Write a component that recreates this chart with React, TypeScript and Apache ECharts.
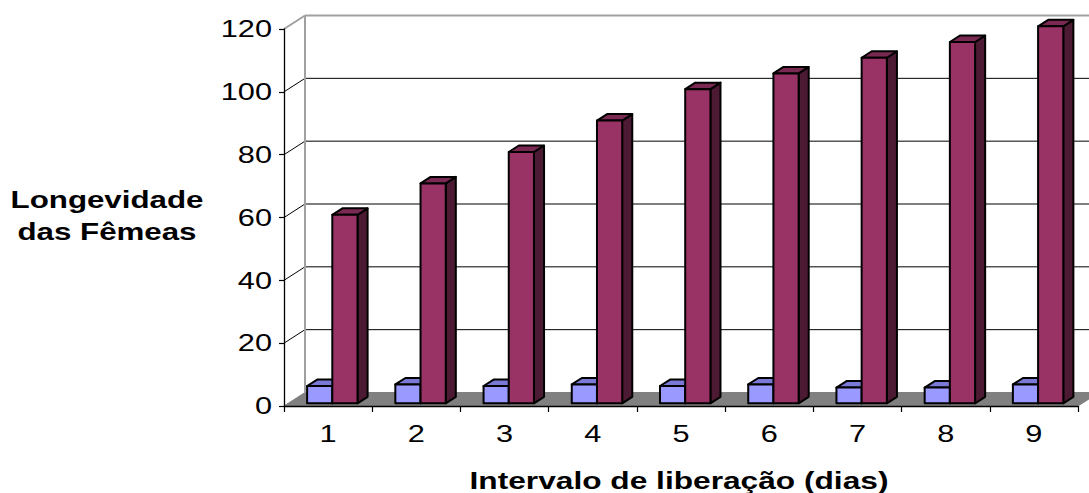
import React, { useEffect, useRef } from "react";
import * as echarts from "echarts";

const categories = ["1", "2", "3", "4", "5", "6", "7", "8", "9"];
const seriesBlue = [5.5, 6, 5.5, 6, 5.5, 6, 5, 5, 6];
const seriesRed = [60, 70, 80, 90, 100, 105, 110, 115, 120];
const yTicks = [0, 20, 40, 60, 80, 100, 120];

const yTitle = "Longevidade\ndas Fêmeas";
const xTitle = "Intervalo de liberação (dias)";

// oblique depth vector (full chart depth)
const DX = 21;
const DY = -13.5;
const F1 = 0.2;
const F2 = 0.68;
const FONT = "Liberation Sans, Arial, Helvetica, sans-serif";
const SX = 1.28;

function makeBarRender(leftSide: boolean, front: string, top: string, side: string) {
  return (params: any, api: any) => {
    const idx = api.value(0);
    const v = api.value(1);
    const c0 = api.coord([idx, 0]);
    const c1 = api.coord([idx, v]);
    const cw = api.size([1, 0])[0];
    const bw = cw / 3.5;
    const l = leftSide ? c0[0] - bw : c0[0];
    const r = l + bw;
    const fx = DX * F1, fy = DY * F1, bx = DX * F2, by = DY * F2;
    const yb = c0[1], yt = c1[1];
    const st = { stroke: "#000", lineWidth: 2, lineJoin: "round" };
    return {
      type: "group",
      children: [
        {
          type: "polygon",
          shape: { points: [[r + fx, yt + fy], [r + bx, yt + by], [r + bx, yb + by], [r + fx, yb + fy]] },
          style: { fill: side, ...st },
        },
        {
          type: "polygon",
          shape: { points: [[l + fx, yt + fy], [r + fx, yt + fy], [r + bx, yt + by], [l + bx, yt + by]] },
          style: { fill: top, ...st },
        },
        {
          type: "polygon",
          shape: { points: [[l + fx, yt + fy], [r + fx, yt + fy], [r + fx, yb + fy], [l + fx, yb + fy]] },
          style: { fill: front, ...st },
        },
      ],
    };
  };
}

export default function App() {
  const ref = useRef<HTMLDivElement>(null);
  useEffect(() => {
    if (!ref.current) return;
    const chart = echarts.init(ref.current, null, { renderer: "svg" });

    const wallsRender = (params: any, api: any) => {
      const cs = params.coordSys;
      const L = cs.x;
      const R = cs.x + cs.width;
      const y0 = api.coord([0, 0])[1];
      const children: any[] = [];
      children.push({
        type: "polygon",
        shape: { points: [[L, y0], [R, y0], [R + DX, y0 + DY], [L + DX, y0 + DY]] },
        style: { fill: "#808080", stroke: "#808080", lineWidth: 1 },
      });
      yTicks.forEach((t) => {
        if (t === 0) return;
        const y = api.coord([0, t])[1];
        const isTop = t === yTicks[yTicks.length - 1];
        const col = isTop ? "#a0a0a0" : "#000";
        const lw = isTop ? 2 : 1;
        children.push({
          type: "line",
          shape: { x1: L, y1: y, x2: L + DX, y2: y + DY },
          style: { stroke: col, lineWidth: lw },
        });
        children.push({
          type: "line",
          shape: { x1: L + DX, y1: y + DY, x2: R + DX + 40, y2: y + DY },
          style: { stroke: col, lineWidth: lw },
        });
      });
      const yTop = api.coord([0, yTicks[yTicks.length - 1]])[1];
      children.push({
        type: "line",
        shape: { x1: L + DX, y1: y0 + DY, x2: L + DX, y2: yTop + DY },
        style: { stroke: "#a0a0a0", lineWidth: 2 },
      });
      return { type: "group", children };
    };

    const yLabelRender = (params: any, api: any) => {
      const cs = params.coordSys;
      const v = api.value(1);
      const y = api.coord([0, v])[1];
      return {
        type: "text",
        x: cs.x - 12,
        y,
        scaleX: SX,
        style: {
          text: String(v),
          fill: "#000",
          fontSize: 24,
          fontFamily: FONT,
          align: "right",
          textAlign: "right",
          verticalAlign: "middle",
          textVerticalAlign: "middle",
        },
      };
    };

    const xLabelRender = (params: any, api: any) => {
      const idx = api.value(0);
      const c = api.coord([idx, 0]);
      return {
        type: "text",
        x: c[0],
        y: c[1] + 28,
        scaleX: SX,
        style: {
          text: categories[idx],
          fill: "#000",
          fontSize: 24,
          fontFamily: FONT,
          align: "center",
          textAlign: "center",
          verticalAlign: "middle",
          textVerticalAlign: "middle",
        },
      };
    };

    chart.setOption({
      animation: false,
      backgroundColor: "#fff",
      grid: { left: 284, right: 11, top: 29, bottom: 87, containLabel: false },
      xAxis: {
        type: "category",
        data: categories,
        boundaryGap: true,
        z: 5,
        axisLine: { show: true, lineStyle: { color: "#000", width: 1.3 } },
        axisTick: { show: true, length: 6, inside: false, lineStyle: { color: "#000", width: 1.2 } },
        axisLabel: { show: false },
        splitLine: { show: false },
      },
      yAxis: {
        type: "value",
        min: 0,
        max: 120,
        interval: 20,
        z: 5,
        axisLine: { show: true, lineStyle: { color: "#000", width: 1.3 } },
        axisTick: { show: true, length: 5, lineStyle: { color: "#000", width: 1.2 } },
        axisLabel: { show: false },
        splitLine: { show: false },
      },
      graphic: [
        {
          type: "text",
          x: 107,
          y: 216,
          scaleX: 1.36,
          style: {
            text: yTitle,
            fill: "#000",
            fontSize: 23,
            fontWeight: "bold",
            fontFamily: FONT,
            lineHeight: 32,
            align: "center",
            textAlign: "center",
            verticalAlign: "middle",
            textVerticalAlign: "middle",
          },
        },
        {
          type: "text",
          x: 679,
          y: 481,
          scaleX: 1.32,
          style: {
            text: xTitle,
            fill: "#000",
            fontSize: 24,
            fontWeight: "bold",
            fontFamily: FONT,
            align: "center",
            textAlign: "center",
            verticalAlign: "middle",
            textVerticalAlign: "middle",
          },
        },
      ],
      series: [
        {
          type: "custom",
          name: "walls",
          renderItem: wallsRender,
          data: [[0, 0]],
          silent: true,
          z: 1,
        },
        {
          type: "custom",
          name: "Série 1",
          renderItem: makeBarRender(true, "#9999ff", "#7a7ad6", "#4d4d99"),
          data: seriesBlue.map((v, i) => [i, v]),
          z: 2,
        },
        {
          type: "custom",
          name: "Série 2",
          renderItem: makeBarRender(false, "#993366", "#7a2952", "#4d1a33"),
          data: seriesRed.map((v, i) => [i, v]),
          z: 3,
        },
        {
          type: "custom",
          name: "yLabels",
          renderItem: yLabelRender,
          data: yTicks.map((t) => [0, t]),
          silent: true,
          z: 6,
        },
        {
          type: "custom",
          name: "xLabels",
          renderItem: xLabelRender,
          data: categories.map((_, i) => [i, 0]),
          silent: true,
          z: 6,
        },
      ],
    });
    return () => chart.dispose();
  }, []);
  return (
    <div
      ref={ref}
      style={{ position: "absolute", left: 0, top: 0, width: 1089, height: 493 }}
    />
  );
}
